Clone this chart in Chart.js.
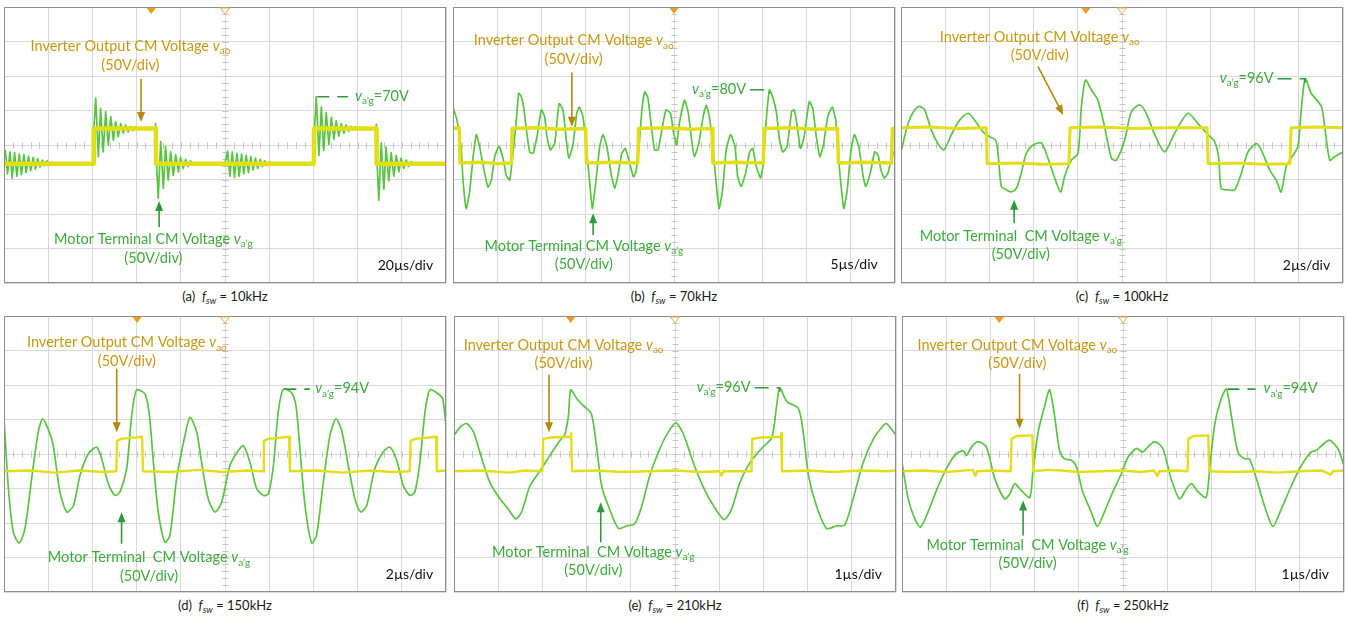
<!DOCTYPE html>
<html>
<head>
<meta charset="utf-8">
<script src="https://cdn.jsdelivr.net/npm/chart.js@4.4.1/dist/chart.umd.min.js"></script>
<style>
  html, body { margin: 0; padding: 0; background: #fff; }
  #page { position: relative; width: 1347px; height: 617px; overflow: hidden; background: #fff;
          font-family: Lato, "Open Sans", sans-serif; }
  .panel { position: absolute; }
  .cap { position: absolute; width: 300px; text-align: center; font-size: 13px; color: #1a1a1a; white-space: pre; }
  .cap i { font-style: italic; }
  .cap sub { font-size: 9px; font-style: italic; vertical-align: -3px; line-height: 0; }
</style>
</head>
<body>
<div id="page"></div>
<script>
// ---- waveforms: [time in µs, voltage in V] ----

// (a) fsw = 10 kHz, 20 µs/div
const vaoA = [[0,-27],[40.5,-27],[40.6,24],[68.7,24],[68.8,-27],[140.2,-27],[140.3,24],[168.5,24],[168.6,-27],[200,-27]];
const vagA = [
  [0,-20],[0.6,-8],[1.6,-42],[2.7,-10],[3.7,-48],[4.8,-11],[5.8,-45],[6.9,-13],[7.9,-43],[9.0,-14],[10.0,-40],
  [11.1,-16],[12.1,-37],[13.2,-18],[14.2,-35],[15.3,-20],[16.3,-32],[17.4,-22],[18.4,-30],[19.5,-23],[20.5,-29],
  [21.6,-25],[23,-27],[30,-26],[40.4,-26],
  [40.6,20],[41.5,68],[42.7,-17],[43.7,53],[44.9,-10],[46.0,48],[47.2,0],[48.3,41],[49.5,7],[50.5,34],[51.7,12],
  [52.8,31],[54.0,17],[55.0,29],[56.2,19],[57.3,27],[58.4,21],[59.5,26],[61,23],[64,24],[68.4,25],[68.6,31],
  [68.9,-20],[69.8,-77],[70.9,5],[72.1,-63],[73.1,-2],[74.3,-51],[75.4,-10],[76.6,-44],[77.7,-14],[78.9,-39],
  [79.9,-18],[81.1,-34],[82.2,-21],[83.3,-31],[84.4,-23],[85.5,-29],[87,-26],[100,-26],
  [101.2,-9],[102.2,-45],[103.3,-10],[104.3,-47],[105.4,-12],[106.4,-45],[107.5,-13],[108.5,-42],[109.6,-15],
  [110.6,-40],[111.7,-17],[112.7,-36],[113.8,-19],[114.8,-34],[115.9,-21],[116.9,-31],[118,-23],[119,-30],
  [120.1,-25],[121.5,-28],[123,-26],[140.2,-26],
  [140.5,22],[141.3,70],[142.5,-15],[143.6,55],[144.7,-8],[145.8,47],[147.0,1],[148.1,40],[149.3,8],[150.3,35],
  [151.5,13],[152.6,31],[153.8,17],[154.8,29],[156,20],[157.1,27],[158.2,22],[159.3,26],[161,23],[165,24],
  [168.3,25],[168.5,30],
  [168.8,-25],[169.6,-80],[170.7,3],[171.9,-64],[172.9,-3],[174.1,-52],[175.2,-11],[176.4,-45],[177.5,-15],
  [178.7,-39],[179.7,-19],[180.9,-34],[182,-22],[183.1,-31],[184.2,-24],[185.3,-29],[187,-26],[200,-26]
];

// (b) fsw = 70 kHz, 5 µs/div
const vaoB = [[0,24],[0.7,25],[0.8,-26],[3.2,-25],[5.0,-27],[6.6,-26],[6.7,24],[9.5,25],[12.0,23],[15.0,24],[15.1,-26],
  [18.0,-25],[20.9,-26],[21.0,24],[24.5,25],[27.0,23],[29.3,24],[29.4,-26],[32.0,-25],[35.1,-26],[35.2,24],[38.0,25],
  [41.0,23],[43.5,24],[43.6,-26],[46.5,-25],[49.6,-26],[49.7,24],[50,24]];
const vagB = [
  [0,55],[0.45,36],[0.94,-7],[1.13,-51],[1.5,-92],[1.88,-68],[2.26,-19],[2.64,15],[3.0,-2],[3.58,-41],[3.96,-61],
  [4.34,-51],[4.71,-17],[5.2,-2],[5.66,-19],[6.03,-44],[6.41,-51],[6.79,-12],[7.16,36],[7.43,75],[7.73,70],[8.0,55],
  [8.3,22],[8.67,-10],[9.05,-12],[9.5,12],[9.99,51],[10.37,41],[10.63,12],[11.0,-7],[11.5,2],[12.0,60],[12.44,51],
  [12.82,7],[13.1,-19],[13.57,0],[14.0,46],[14.3,55],[14.7,41],[15.08,-2],[15.4,-46],[15.76,-92],[16.1,-60],
  [16.6,-2],[16.97,15],[17.4,-2],[17.9,-43],[18.3,-63],[18.7,-41],[19.1,-12],[19.5,-5],[20.0,-27],[20.4,-46],
  [20.7,-39],[21.1,7],[21.4,55],[21.7,77],[22.05,68],[22.4,31],[22.8,-7],[23.2,-7],[23.7,27],[24.1,51],[24.6,46],
  [25.0,15],[25.3,0],[25.6,31],[26.2,65],[26.6,48],[27.0,7],[27.3,-17],[27.8,2],[28.3,41],[28.65,58],[29.0,41],
  [29.4,-2],[29.7,-46],[30.1,-92],[30.5,-65],[30.9,-7],[31.4,15],[31.9,-2],[32.2,-46],[32.6,-60],[33.1,-41],
  [33.55,-10],[33.9,-5],[34.3,-31],[34.8,-48],[35.1,-27],[35.4,31],[35.8,80],[36.2,68],[36.6,46],[36.9,10],
  [37.3,-10],[37.8,-2],[38.3,48],[38.6,51],[38.9,31],[39.3,-5],[39.7,10],[40.3,63],[40.7,53],[41.1,12],[41.5,-17],
  [41.9,0],[42.4,41],[42.9,55],[43.3,36],[43.5,-2],[43.8,-46],[44.2,-92],[44.6,-65],[45.0,-10],[45.4,15],
  [45.9,-2],[46.4,-46],[46.7,-60],[47.2,-41],[47.7,-10],[48.1,-15],[48.4,-36],[48.8,-48],[49.2,-41],[49.6,-19],[50,-7]
];

// (c) fsw = 100 kHz, 2 µs/div
const vaoC = [[0,25],[1.2,26],[2.6,24],[3.86,25],[3.9,-27],[5.2,-26],[6.4,-28],[7.6,-27],[7.65,25],[9.0,26],[10.5,24],
  [12.2,25],[13.85,25],[13.9,-27],[15.2,-26],[16.4,-28],[17.6,-27],[17.65,25],[18.8,26],[20,25]];
const vagC = [
  [0,-10],[0.32,31],[0.62,51],[0.84,56],[1.07,51],[1.37,22],[1.67,2],[1.94,-7],[2.28,15],[2.65,36],[3.03,46],
  [3.33,36],[3.71,19],[4.01,12],[4.28,7],[4.39,-12],[4.54,-60],[4.77,-65],[4.99,-68],[5.22,-63],[5.44,-41],
  [5.67,-12],[5.97,0],[6.35,3],[6.57,-12],[6.88,-41],[7.22,-68],[7.4,-46],[7.71,-22],[8.01,-12],[8.16,55],
  [8.35,94],[8.61,80],[8.91,65],[9.21,27],[9.52,-19],[9.74,-22],[10.12,7],[10.42,48],[10.8,58],[11.1,46],
  [11.48,15],[11.93,-10],[12.38,17],[12.98,46],[13.44,31],[13.89,15],[14.19,5],[14.37,-17],[14.49,-63],
  [14.79,-65],[15.1,-65],[15.4,-41],[15.7,-10],[16.08,2],[16.3,-7],[16.68,-36],[16.98,-51],[17.2,-68],
  [17.43,-31],[17.66,-19],[17.96,-2],[18.11,51],[18.29,96],[18.56,75],[19.02,56],[19.17,27],[19.4,-22],
  [19.62,-17],[20,-10]
];

// (d) fsw = 150 kHz, 2 µs/div
const vaoD = [[0,-25],[1.2,-24],[2.3,-27],[3.4,-24],[4.5,-26],[5.08,-25],[5.12,19],[5.3,22],[6.25,25],[6.29,-25],
  [7.5,-26],[8.8,-23],[9.9,-26],[11.0,-24],[11.72,-25],[11.76,19],[11.95,22],[12.9,25],[12.94,-25],[14.2,-24],
  [15.3,-27],[16.6,-24],[17.6,-26],[18.36,-25],[18.4,19],[18.6,22],[19.55,25],[19.59,-25],[20,-24]];
const vagD = [
  [0,51],[0.2,-50],[0.42,-113],[0.69,-129],[0.95,-108],[1.25,-36],[1.55,32],[1.75,51],[2.0,36],[2.23,12],
  [2.53,-55],[2.84,-84],[3.14,-75],[3.44,-31],[3.81,0],[4.19,10],[4.42,-7],[4.72,-43],[5.02,-60],[5.25,-55],
  [5.55,-21],[5.78,56],[6.0,93],[6.38,87],[6.58,56],[6.76,-12],[6.98,-84],[7.28,-128],[7.51,-118],[7.81,-36],
  [8.19,27],[8.42,53],[8.72,32],[8.94,-12],[9.24,-65],[9.55,-84],[9.85,-70],[10.22,-17],[10.56,3],[10.83,12],
  [11.13,-12],[11.43,-50],[11.73,-60],[11.96,-58],[12.19,-17],[12.41,61],[12.64,94],[13.0,89],[13.21,70],
  [13.39,8],[13.62,-75],[13.92,-129],[14.14,-118],[14.45,-41],[14.75,27],[15.02,51],[15.28,34],[15.58,-17],
  [15.88,-65],[16.14,-84],[16.41,-75],[16.78,-21],[17.16,3],[17.46,10],[17.77,-9],[18.07,-46],[18.37,-60],
  [18.59,-55],[18.82,-12],[19.05,61],[19.27,93],[19.65,87],[19.85,80],[20,41]
];

// (e) fsw = 210 kHz, 1 µs/div
const vaoE = [[0,-25],[0.6,-24],[1.25,-27],[1.6,-24],[2.0,-25],[2.02,22],[2.2,24],[2.64,25],[2.65,30],[2.67,-25],
  [3.2,-24],[3.8,-26],[4.4,-25],[5.0,-24],[5.6,-26],[6.0,-25],[6.05,-31],[6.1,-25],[6.73,-25],[6.75,22],[6.95,24],
  [7.39,25],[7.4,30],[7.42,-25],[8.0,-24],[8.6,-26],[9.2,-24],[9.8,-25],[10,-24]];
const vagE = [
  [0,27],[0.14,39],[0.29,44],[0.44,32],[0.63,-7],[0.81,-41],[1.04,-65],[1.23,-80],[1.4,-94],[1.53,-84],
  [1.72,-46],[1.95,-24],[2.17,-2],[2.4,20],[2.51,29],[2.59,56],[2.64,93],[2.78,80],[2.93,70],[3.11,58],
  [3.23,8],[3.34,-46],[3.49,-75],[3.72,-108],[3.91,-104],[4.09,-101],[4.25,-75],[4.43,-31],[4.66,8],[4.85,32],
  [5.02,45],[5.19,29],[5.41,-12],[5.64,-48],[5.87,-75],[6.11,-95],[6.28,-80],[6.47,-41],[6.7,-12],[6.96,8],
  [7.19,24],[7.3,70],[7.37,96],[7.53,76],[7.79,66],[7.9,32],[8.02,-31],[8.2,-75],[8.43,-108],[8.66,-104],
  [8.84,-103],[9.03,-65],[9.26,-12],[9.49,22],[9.71,41],[9.79,44],[10,27]
];

// (f) fsw = 250 kHz, 1 µs/div
const vaoF = [[0,-25],[0.5,-24],[1.0,-26],[1.6,-23],[1.66,-32],[1.7,-25],[2.0,-24],[2.46,-25],[2.48,22],[2.6,26],
  [2.95,27],[2.97,-25],[3.3,-23],[3.6,-24],[4.0,-26],[4.5,-25],[5.0,-24],[5.4,-26],[5.7,-24],[5.78,-32],[5.82,-25],
  [6.2,-24],[6.46,-25],[6.48,22],[6.6,26],[6.93,27],[6.95,-25],[7.5,-26],[8.0,-25],[8.5,-27],[9.0,-25],[9.5,-24],
  [9.7,-30],[9.75,-25],[10,-24]];
const vagF = [
  [0,-12],[0.14,-65],[0.29,-94],[0.42,-106],[0.59,-84],[0.81,-48],[1.0,-22],[1.19,-2],[1.38,5],[1.46,-2],
  [1.57,10],[1.72,18],[1.91,10],[2.1,-36],[2.32,-65],[2.44,-58],[2.55,-43],[2.7,-53],[2.89,-63],[2.96,-26],
  [3.08,32],[3.23,70],[3.34,93],[3.45,56],[3.57,3],[3.68,-7],[3.83,-9],[3.94,-17],[4.09,-55],[4.28,-84],
  [4.42,-105],[4.58,-84],[4.77,-55],[4.96,-29],[5.11,-5],[5.3,8],[5.45,3],[5.56,10],[5.72,18],[5.9,8],
  [6.09,-36],[6.28,-65],[6.43,-51],[6.55,-43],[6.7,-55],[6.88,-63],[6.96,-22],[7.07,41],[7.22,80],[7.34,94],
  [7.45,56],[7.6,3],[7.75,-7],[7.86,-7],[8.02,-36],[8.2,-75],[8.39,-105],[8.58,-80],[8.81,-46],[9.03,-17],
  [9.26,3],[9.37,5],[9.49,12],[9.67,20],[9.86,8],[10,-17]
];

// ---- panel labels ----
const panelTags   = ['(a)', '(b)', '(c)', '(d)', '(e)', '(f)'];
const switchFreqs = ['10kHz', '70kHz', '100kHz', '150kHz', '210kHz', '250kHz'];
const timeBases   = [20, 5, 2, 2, 1, 1];          // µs per division
const voltsPerDiv = 50;

// ---- layout and styling ----
const FONT = 'Lato, "Open Sans", sans-serif';
const ORANGE_TXT = '#c9980f', ORANGE_ARR = '#b8860b';
const GREEN_TXT = '#3caa3c', GREEN_ARR = '#2f9a3a';
const TRACE_G = '#58c540', TRACE_Y = '#e2de18';
const LABEL_PX = 14.5;
const PW = 442, PH = 276;

const INV_TEXT = [['Inverter Output CM Voltage ', 'n'], ['v', 'i'], ['ao', 's']];
const MOT_TEXT1 = [['Motor Terminal CM Voltage ', 'n'], ['v', 'i'], ['a\u2019g', 's']];
const MOT_TEXT2 = [['Motor Terminal  CM Voltage ', 'n'], ['v', 'i'], ['a\u2019g', 's']];

const panels = [
  { box: [4, 7],     green: vagA, yellow: vaoA, yW: 4.5, tension: 0,
    inv: [2.86, 2.87], invArrow: [3.10, 1.91, 3.10, 0.67], mot: [3.38, -2.72], motText: MOT_TEXT1,
    motArrow: [3.51, -2.38, 3.51, -1.62], tb: [9.71, -3.48],
    peak: { side: 'right', lineEnd: 7.78, textX: 7.94 }, markers: [[3.33, 1], [5.0, 0]] },
  { box: [453, 7],   green: vagB, yellow: vaoB, yW: 3.5, tension: 0.15,
    inv: [2.73, 3.04], invArrow: [2.69, 2.10, 2.69, 0.53], mot: [2.96, -2.92], motText: MOT_TEXT1,
    motArrow: [3.17, -2.61, 3.17, -1.98], tb: [9.61, -3.45],
    peak: { side: 'left', textX: 5.41 }, markers: [[5.0, 1]] },
  { box: [901, 7],   green: vagC, yellow: vaoC, yW: 3, tension: 0.25,
    inv: [3.14, 3.14], invArrow: [3.10, 2.27, 3.67, 0.87], mot: [2.71, -2.63], motText: MOT_TEXT2,
    motArrow: [2.56, -2.27, 2.56, -1.59], tb: [9.71, -3.48],
    peak: { side: 'left', textX: 7.21 }, markers: [[4.18, 1], [5.0, 0]] },
  { box: [4, 316],   green: vagD, yellow: vaoD, yW: 2.4, tension: 0.25,
    inv: [2.78, 3.24], invArrow: [2.55, 2.47, 2.55, 0.63], mot: [3.28, -2.99], motText: MOT_TEXT2,
    motArrow: [2.66, -2.6, 2.66, -1.69], tb: [9.71, -3.47],
    peak: { side: 'right', lineEnd: 6.92, textX: 7.04 }, markers: [[3.01, 1], [5.0, 0]] },
  { box: [454, 316], green: vagE, yellow: vaoE, yW: 2.4, tension: 0.25,
    inv: [2.48, 3.17], invArrow: [2.15, 2.3, 2.15, 0.63], mot: [3.15, -2.83], motText: MOT_TEXT2,
    motArrow: [3.32, -2.56, 3.32, -1.4], tb: [9.68, -3.47],
    peak: { side: 'left', textX: 5.49 }, markers: [[2.64, 1], [5.0, 0]] },
  { box: [902, 316], green: vagF, yellow: vaoF, yW: 2.4, tension: 0.25,
    inv: [2.61, 3.17], invArrow: [2.66, 2.32, 2.66, 0.73], mot: [2.84, -2.63], motText: MOT_TEXT2,
    motArrow: [2.74, -2.36, 2.74, -1.35], tb: [9.66, -3.47],
    peak: { side: 'right', lineEnd: 8.0, textX: 8.18 }, markers: [[2.2, 1], [5.0, 0]] }
];

// ---- text helpers ----
function partFont(kind, size) {
  if (kind === 'i') return 'italic ' + size + 'px ' + FONT;
  if (kind === 's') return Math.round(size * 0.68) + 'px ' + FONT;
  return size + 'px ' + FONT;
}
function richWidth(ctx, parts, size) {
  let w = 0;
  for (const [t, k] of parts) { ctx.font = partFont(k, size); w += ctx.measureText(t).width; }
  return w;
}
function drawRich(ctx, parts, x, yMid, size, color, align) {
  const w = richWidth(ctx, parts, size);
  let cx = align === 'center' ? x - w / 2 : align === 'right' ? x - w : x;
  const base = yMid + size * 0.36;
  ctx.fillStyle = color;
  ctx.textBaseline = 'alphabetic';
  ctx.textAlign = 'left';
  for (const [t, k] of parts) {
    ctx.font = partFont(k, size);
    ctx.fillText(t, cx, base + (k === 's' ? size * 0.22 : 0));
    cx += ctx.measureText(t).width;
  }
  return w;
}
function arrow(ctx, x1, y1, x2, y2, color) {
  const a = Math.atan2(y2 - y1, x2 - x1), L = 10, hw = 4;
  ctx.strokeStyle = color; ctx.fillStyle = color; ctx.lineWidth = 1.6; ctx.setLineDash([]);
  ctx.beginPath(); ctx.moveTo(x1, y1); ctx.lineTo(x2 - L * 0.8 * Math.cos(a), y2 - L * 0.8 * Math.sin(a)); ctx.stroke();
  ctx.beginPath();
  ctx.moveTo(x2, y2);
  ctx.lineTo(x2 - L * Math.cos(a) + hw * Math.sin(a), y2 - L * Math.sin(a) - hw * Math.cos(a));
  ctx.lineTo(x2 - L * Math.cos(a) - hw * Math.sin(a), y2 - L * Math.sin(a) + hw * Math.cos(a));
  ctx.closePath(); ctx.fill();
}

// scope screen decorations and labels, drawn with the chart's own scales
function makeOverlay(p, idx) {
  const us = timeBases[idx];
  return {
    id: 'scopeOverlay' + idx,
    beforeDatasetsDraw(chart) {
      const ctx = chart.ctx, xs = chart.scales.x, ys = chart.scales.y;
      const cx = Math.round(xs.getPixelForValue(5 * us)) + 0.5;
      const cy = Math.round(ys.getPixelForValue(0)) + 0.5;
      ctx.save();
      ctx.strokeStyle = '#c4c4c4'; ctx.lineWidth = 1;
      ctx.beginPath();
      for (let i = 1; i < 50; i++) {
        const x = Math.round(xs.getPixelForValue(i * us / 5)) + 0.5;
        ctx.moveTo(x, cy - 3); ctx.lineTo(x, cy + 3);
      }
      for (let i = 1; i < 40; i++) {
        const y = Math.round(ys.getPixelForValue(-200 + i * 10)) + 0.5;
        ctx.moveTo(cx - 3, y); ctx.lineTo(cx + 3, y);
      }
      ctx.stroke();
      ctx.restore();
    },
    afterDatasetsDraw(chart) {
      const ctx = chart.ctx, xs = chart.scales.x, ys = chart.scales.y, area = chart.chartArea;
      const X = d => xs.getPixelForValue(d * us);
      const Y = d => ys.getPixelForValue(d * voltsPerDiv);
      ctx.save();
      // screen frame
      ctx.strokeStyle = '#8e8e8e'; ctx.lineWidth = 1;
      ctx.strokeRect(Math.round(area.left) + 0.5, Math.round(area.top) + 0.5,
                     Math.round(area.width) - 1, Math.round(area.height) - 1);
      // trigger markers at the top edge
      for (const [d, filled] of p.markers) {
        const x = X(d), t = area.top + 1;
        ctx.beginPath(); ctx.moveTo(x - 4.5, t); ctx.lineTo(x + 4.5, t); ctx.lineTo(x, t + 6); ctx.closePath();
        if (filled) { ctx.fillStyle = '#f29a1c'; ctx.fill(); }
        else { ctx.fillStyle = '#fff'; ctx.fill(); ctx.strokeStyle = '#f2a84a'; ctx.lineWidth = 1; ctx.stroke(); }
      }
      // inverter output label and arrow
      drawRich(ctx, INV_TEXT, X(p.inv[0]), Y(p.inv[1]), LABEL_PX, ORANGE_TXT, 'center');
      drawRich(ctx, [['(' + voltsPerDiv + 'V/div)', 'n']], X(p.inv[0]), Y(p.inv[1]) + 18.5, LABEL_PX, ORANGE_TXT, 'center');
      arrow(ctx, X(p.invArrow[0]), Y(p.invArrow[1]), X(p.invArrow[2]), Y(p.invArrow[3]), ORANGE_ARR);
      // motor terminal label and arrow
      drawRich(ctx, p.motText, X(p.mot[0]), Y(p.mot[1]), LABEL_PX, GREEN_TXT, 'center');
      drawRich(ctx, [['(' + voltsPerDiv + 'V/div)', 'n']], X(p.mot[0]), Y(p.mot[1]) + 18.5, LABEL_PX, GREEN_TXT, 'center');
      arrow(ctx, X(p.motArrow[0]), Y(p.motArrow[1]), X(p.motArrow[2]), Y(p.motArrow[3]), GREEN_ARR);
      // time base
      drawRich(ctx, [[timeBases[idx] + '\u00b5s/div', 'n']], X(p.tb[0]), Y(p.tb[1]), 14, '#111', 'right');
      // peak marker of the motor terminal voltage
      let pk = p.green[0];
      for (const pt of p.green) if (pt[1] > pk[1]) pk = pt;
      const px = xs.getPixelForValue(pk[0]), py = ys.getPixelForValue(pk[1]);
      const parts = [['v', 'i'], ['a\u2019g', 's'], ['=' + pk[1] + 'V', 'n']];
      ctx.strokeStyle = GREEN_ARR; ctx.lineWidth = 1.6; ctx.setLineDash([12, 8]);
      if (p.peak.side === 'right') {
        ctx.beginPath(); ctx.moveTo(px + 1, py); ctx.lineTo(X(p.peak.lineEnd), py); ctx.stroke();
        ctx.setLineDash([]);
        drawRich(ctx, parts, X(p.peak.textX), py - 1, LABEL_PX, GREEN_TXT, 'left');
      } else {
        ctx.setLineDash([]);
        const w = drawRich(ctx, parts, X(p.peak.textX), py - 1, LABEL_PX, GREEN_TXT, 'left');
        ctx.setLineDash([14, 8]);
        ctx.beginPath(); ctx.moveTo(X(p.peak.textX) + w + 4, py); ctx.lineTo(px, py); ctx.lineTo(px, py + 4); ctx.stroke();
        ctx.setLineDash([]);
      }
      ctx.restore();
    }
  };
}

// ---- build the six scope panels ----
const page = document.getElementById('page');
panels.forEach((p, idx) => {
  const holder = document.createElement('div');
  holder.className = 'panel';
  holder.style.left = (p.box[0] - 1) + 'px';
  holder.style.top = (p.box[1] - 1) + 'px';
  const canvas = document.createElement('canvas');
  canvas.width = PW + 2; canvas.height = PH + 2;
  canvas.style.width = (PW + 2) + 'px'; canvas.style.height = (PH + 2) + 'px';
  holder.appendChild(canvas);
  page.appendChild(holder);

  const cap = document.createElement('div');
  cap.className = 'cap';
  cap.style.left = (p.box[0] + PW / 2 - 150) + 'px';
  cap.style.top = (p.box[1] + PH + 5) + 'px';
  cap.innerHTML = panelTags[idx] + '  <i>f</i><sub>sw</sub> = ' + switchFreqs[idx];
  page.appendChild(cap);

  const us = timeBases[idx];
  const gridOpts = { color: '#d9d9d9', lineWidth: 1, drawTicks: false };
  new Chart(canvas, {
    type: 'line',
    data: {
      datasets: [
        { label: 'vao', data: p.yellow.map(([x, y]) => ({ x, y })), borderColor: TRACE_Y,
          borderWidth: p.yW, pointRadius: 0, tension: 0, borderJoinStyle: 'round' },
        { label: 'vag', data: p.green.map(([x, y]) => ({ x, y })), borderColor: TRACE_G,
          borderWidth: 1.7, pointRadius: 0, tension: p.tension, borderJoinStyle: 'round' }
      ]
    },
    options: {
      responsive: false, animation: false, events: [], devicePixelRatio: 1,
      layout: { padding: 1 },
      plugins: { legend: { display: false }, tooltip: { enabled: false } },
      scales: {
        x: { type: 'linear', min: 0, max: 10 * us, ticks: { display: false, stepSize: us },
             grid: gridOpts, border: { display: false } },
        y: { type: 'linear', min: -4 * voltsPerDiv, max: 4 * voltsPerDiv, ticks: { display: false, stepSize: voltsPerDiv },
             grid: gridOpts, border: { display: false } }
      }
    },
    plugins: [makeOverlay(p, idx)]
  });
});
</script>
</body>
</html>
